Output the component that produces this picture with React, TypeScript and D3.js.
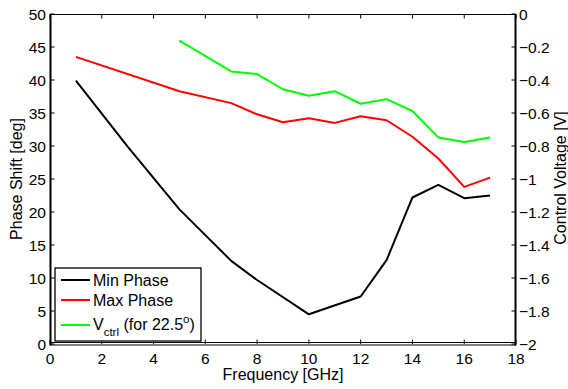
import * as d3 from 'd3'

const freqMin = [1, 3, 5, 7, 8, 10, 12, 13, 14, 15, 16, 17]
const minPhase = [39.9, 29.9, 20.4, 12.6, 9.7, 4.5, 7.2, 12.7, 22.2, 24.1, 22.1, 22.5]

const freqMax = [1, 5, 7, 8, 9, 10, 11, 12, 13, 14, 15, 16, 17]
const maxPhase = [43.5, 38.3, 36.5, 34.8, 33.6, 34.2, 33.5, 34.5, 33.9, 31.4, 28.1, 23.8, 25.2]

const freqV = [5, 7, 8, 9, 10, 11, 12, 13, 14, 15, 16, 17]
const vctrl = [-0.162, -0.348, -0.364, -0.456, -0.496, -0.468, -0.544, -0.516, -0.588, -0.748, -0.776, -0.748]

const xTicks = [0, 2, 4, 6, 8, 10, 12, 14, 16, 18]
const yTicks = [0, 5, 10, 15, 20, 25, 30, 35, 40, 45, 50]
const vTicks = [0, -0.2, -0.4, -0.6, -0.8, -1, -1.2, -1.4, -1.6, -1.8, -2]

const W = 568
const H = 389
const margin = { left: 50, right: 52, top: 14, bottom: 45 }
const font = 'Liberation Sans, Arial, sans-serif'

export default function App() {
  const x = d3.scaleLinear().domain([0, 18]).range([margin.left, W - margin.right])
  const y = d3.scaleLinear().domain([0, 50]).range([H - margin.bottom, margin.top])
  const yv = d3.scaleLinear().domain([-2, 0]).range([H - margin.bottom, margin.top])

  const line = d3.line<[number, number]>()
    .x(d => x(d[0]))
    .y(d => y(d[1]))
  const lineV = d3.line<[number, number]>()
    .x(d => x(d[0]))
    .y(d => yv(d[1]))

  const x0 = x(0), x1 = x(18), y0 = y(0), y1 = y(50)

  const vLabel = (v: number) => (v === 0 ? '0' : '\u2212' + String(Math.abs(v)))

  // legend layout
  const lg = { x: 55, y: 268, w: 146, h: 73 }
  const rows = [
    { color: '#000000', ly: 280 },
    { color: '#ff0000', ly: 300 },
    { color: '#00ff00', ly: 325 }
  ]

  return (
    <div style={{ position: 'fixed', left: 0, top: 0 }}>
      <svg width={W} height={H} style={{ display: 'block', background: '#fff' }}>
        {/* data lines */}
        <path d={line(freqMin.map((f, i) => [f, minPhase[i]]) as [number, number][]) || ''}
          fill="none" stroke="#000" strokeWidth={2} strokeLinejoin="round" />
        <path d={line(freqMax.map((f, i) => [f, maxPhase[i]]) as [number, number][]) || ''}
          fill="none" stroke="#ff0000" strokeWidth={2} strokeLinejoin="round" />
        <path d={lineV(freqV.map((f, i) => [f, vctrl[i]]) as [number, number][]) || ''}
          fill="none" stroke="#00ff00" strokeWidth={2} strokeLinejoin="round" />

        {/* frame */}
        <line x1={x0} y1={y1 + 0.5} x2={x1} y2={y1 + 0.5} stroke="#000" strokeWidth={1} />
        <line x1={x0 + 0.5} y1={y1} x2={x0 + 0.5} y2={y0 + 1.5} stroke="#000" strokeWidth={2} />
        <line x1={x1 - 0.5} y1={y1} x2={x1 - 0.5} y2={y0 + 1.5} stroke="#000" strokeWidth={2} />
        <line x1={x0} y1={y0 - 1.5} x2={x1} y2={y0 - 1.5} stroke="#000" strokeWidth={1} />
        <line x1={x0} y1={y0 + 1} x2={x1} y2={y0 + 1} stroke="#000" strokeWidth={1.2} />

        {/* x ticks */}
        {xTicks.map(t => (
          <g key={'x' + t}>
            <line x1={x(t)} x2={x(t)} y1={y0} y2={y0 - 4.5} stroke="#000" />
            <line x1={x(t)} x2={x(t)} y1={y1} y2={y1 + 4.5} stroke="#000" />
            <text x={x(t)} y={364} textAnchor="middle" fontSize={15.5} fontFamily={font} fill="#000">{t}</text>
          </g>
        ))}

        {/* left ticks */}
        {yTicks.map(t => (
          <g key={'y' + t}>
            <line x1={x0} x2={x0 + 4.5} y1={y(t)} y2={y(t)} stroke="#000" />
            <text x={46} y={y(t) + 5.5} textAnchor="end" fontSize={15.5} fontFamily={font} fill="#000">{t}</text>
          </g>
        ))}

        {/* right ticks */}
        {vTicks.map(t => (
          <g key={'v' + t}>
            <line x1={x1} x2={x1 - 4.5} y1={yv(t)} y2={yv(t)} stroke="#000" />
            <text x={x1 + 3} y={yv(t) + 5.5} textAnchor="start" fontSize={15.5} fontFamily={font} fill="#000">{vLabel(t)}</text>
          </g>
        ))}

        {/* axis titles */}
        <text x={283} y={380} textAnchor="middle" fontSize={16} fontFamily={font} fill="#000">Frequency [GHz]</text>
        <text transform="translate(21.5,179) rotate(-90)" textAnchor="middle" fontSize={16} fontFamily={font} fill="#000">Phase Shift [deg]</text>
        <text transform="translate(566,178) rotate(-90)" textAnchor="middle" fontSize={16} fontFamily={font} fill="#000">Control Voltage [V]</text>

        {/* legend */}
        <rect x={lg.x} y={lg.y} width={lg.w} height={lg.h} fill="#fff" stroke="#000" strokeWidth={1.3} />
        {rows.map(r => (
          <line key={r.color} x1={61} x2={90} y1={r.ly} y2={r.ly} stroke={r.color} strokeWidth={2} />
        ))}
        <text x={93} y={285.5} fontSize={16} fontFamily={font} fill="#000">Min Phase</text>
        <text x={93} y={305.5} fontSize={16} fontFamily={font} fill="#000">Max Phase</text>
        <text x={93} y={330} fontSize={16} fontFamily={font} fill="#000">
          V
          <tspan fontSize={11.5} dy={6}>ctrl</tspan>
          <tspan dy={-6}> (for 22.5</tspan>
          <tspan fontSize={11.5} dy={-7}>o</tspan>
          <tspan dy={7}>)</tspan>
        </text>
      </svg>
    </div>
  )
}
